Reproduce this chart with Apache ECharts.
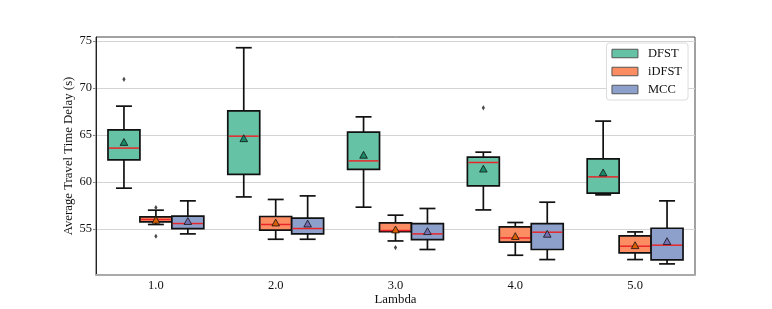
<!DOCTYPE html>
<html><head><meta charset="utf-8">
<script src="https://cdn.jsdelivr.net/npm/echarts@6/dist/echarts.min.js"></script>
<style>html,body{margin:0;padding:0;background:#fff}#c{width:772px;height:309px}</style>
</head><body><div id="c"></div>
<script>
const categories = ['1.0', '2.0', '3.0', '4.0', '5.0'];
const methods = ['DFST', 'iDFST', 'MCC'];
const yTicks = [55, 60, 65, 70, 75];
// [lowWhisker, Q1, median, Q3, highWhisker]
const dfstStats = [
  [59.33, 62.34, 63.59, 65.53, 68.05],
  [58.40, 60.79, 64.86, 67.55, 74.26],
  [57.31, 61.32, 62.23, 65.29, 66.91],
  [57.02, 59.57, 62.06, 62.63, 63.16],
  [58.62, 58.80, 60.53, 62.45, 66.46]
];
const dfstMeans = [64.2, 64.6, 62.84, 61.37, 60.96];
const dfstOutliers = [[0, 70.9], [3, 67.87]];

const idfstStats = [
  [55.47, 55.74, 56.00, 56.28, 56.99],
  [53.90, 54.86, 55.47, 56.32, 58.13],
  [53.72, 54.72, 54.83, 55.64, 56.46],
  [52.20, 53.59, 54.04, 55.21, 55.68],
  [51.74, 52.45, 53.16, 54.26, 54.68]
];
const idfstMeans = [55.93, 55.64, 54.9, 54.2, 53.23];
const idfstOutliers = [[0, 57.27], [0, 54.22], [2, 53.02]];

const mccStats = [
  [54.47, 55.04, 55.57, 56.35, 57.98],
  [53.90, 54.47, 55.04, 56.14, 58.51],
  [52.81, 53.87, 54.47, 55.57, 57.17],
  [51.74, 52.81, 54.65, 55.57, 57.84],
  [51.28, 51.70, 53.27, 55.07, 57.98]
];
const mccMeans = [55.8, 55.53, 54.72, 54.44, 53.66];
const mccOutliers = [];

const fills = ['#66c2a5', '#fc8d62', '#8da0cb'];
const meanColors = ['#1b8a68', '#d95f02', '#7570b3'];
const FONT = 'Liberation Serif';

function boxData(stats, means) {
  return stats.map((s, i) => [i, s[0], s[1], s[2], s[3], s[4], means[i]]);
}

function boxRender(slot, fill, meanColor) {
  return function (params, api) {
    const cat = api.value(0);
    const band = api.size([1, 0])[0];
    const w = band * 0.8 / 3;
    const cx = api.coord([cat, 0])[0] + (slot - 1) * w;
    const Y = i => api.coord([cat, api.value(i)])[1];
    const lo = Y(1), q1 = Y(2), md = Y(3), q3 = Y(4), hi = Y(5), mn = Y(6);
    const cap = w / 4;
    const ls = {stroke: '#111', lineWidth: 1.7};
    const s = 3.8;
    return {type: 'group', children: [
      {type: 'line', shape: {x1: cx, y1: hi, x2: cx, y2: q3}, style: ls},
      {type: 'line', shape: {x1: cx, y1: q1, x2: cx, y2: lo}, style: ls},
      {type: 'line', shape: {x1: cx - cap, y1: hi, x2: cx + cap, y2: hi}, style: ls},
      {type: 'line', shape: {x1: cx - cap, y1: lo, x2: cx + cap, y2: lo}, style: ls},
      {type: 'rect', shape: {x: cx - w / 2, y: q3, width: w, height: q1 - q3}, style: {fill: fill, stroke: '#111', lineWidth: 1.7}},
      {type: 'line', shape: {x1: cx - w / 2 + 1, y1: md, x2: cx + w / 2 - 1, y2: md}, style: {stroke: '#e8262a', lineWidth: 1.5}},
      {type: 'polygon', shape: {points: [[cx, mn - s], [cx - s, mn + s * 0.8], [cx + s, mn + s * 0.8]]}, style: {fill: meanColor, stroke: '#111', lineWidth: 0.8}}
    ]};
  };
}

function outlierRender(slot) {
  return function (params, api) {
    const cat = api.value(0);
    const band = api.size([1, 0])[0];
    const w = band * 0.8 / 3;
    const p = api.coord([cat, api.value(1)]);
    const cx = p[0] + (slot - 1) * w, cy = p[1];
    return {type: 'polygon', shape: {points: [[cx, cy - 2.6], [cx + 1.6, cy], [cx, cy + 2.6], [cx - 1.6, cy]]}, style: {fill: '#4a4a4a'}};
  };
}

const allStats = [dfstStats, idfstStats, mccStats];
const allMeans = [dfstMeans, idfstMeans, mccMeans];
const allOutliers = [dfstOutliers, idfstOutliers, mccOutliers];

const series = [];
methods.forEach((m, k) => {
  series.push({
    name: m, type: 'custom', renderItem: boxRender(k, fills[k], meanColors[k]),
    itemStyle: {color: fills[k]},
    encode: {x: 0, y: [1, 2, 3, 4, 5, 6]},
    data: boxData(allStats[k], allMeans[k]), z: 3
  });
  series.push({
    name: m + ' outliers', type: 'custom', renderItem: outlierRender(k),
    encode: {x: 0, y: 1}, data: allOutliers[k], z: 3
  });
});

const chart = echarts.init(document.getElementById('c'));
chart.setOption({
  animation: false,
  grid: {left: 96, right: 77, top: 37, bottom: 34, show: true, borderColor: '#444', borderWidth: 1,
         containLabel: false, outerBoundsMode: 'none'},
  legend: {
    orient: 'vertical', right: 84, top: 43,
    data: methods.map((m, k) => ({name: m, icon: 'rect', itemStyle: {color: fills[k], borderColor: '#555', borderWidth: 1}})),
    itemWidth: 26, itemHeight: 8.5, itemGap: 5,
    padding: [4, 6, 4, 5],
    backgroundColor: '#fff', borderColor: '#dcdcdc', borderWidth: 1, borderRadius: 3,
    textStyle: {fontFamily: FONT, fontSize: 12.5, color: '#111', padding: [0, 0, 0, 5]},
    selectedMode: false
  },
  xAxis: {
    type: 'category', data: categories, boundaryGap: true,
    name: 'Lambda', nameLocation: 'middle', nameGap: 18, nameMoveOverlap: false,
    nameTextStyle: {fontFamily: FONT, fontSize: 12.8, color: '#111'},
    axisLine: {lineStyle: {color: '#aaa', width: 2}},
    axisTick: {alignWithLabel: true, length: 3, lineStyle: {color: '#888'}},
    axisLabel: {fontFamily: FONT, fontSize: 12.5, color: '#111', margin: 4},
    splitLine: {show: false}
  },
  yAxis: {
    type: 'value', min: 50.1, max: 75.4,
    name: 'Average Travel Time Delay (s)', nameLocation: 'middle', nameGap: 21, nameMoveOverlap: false,
    nameTextStyle: {fontFamily: FONT, fontSize: 12.8, color: '#111'},
    axisLine: {show: true, lineStyle: {color: '#222', width: 1}},
    axisTick: {show: true, length: 3, customValues: yTicks, lineStyle: {color: '#888'}},
    axisLabel: {fontFamily: FONT, fontSize: 12.5, color: '#111', margin: 4, customValues: yTicks},
    splitLine: {show: true, lineStyle: {color: '#d4d4d4', width: 1.2}}
  },
  series: series
});
</script></body></html>
